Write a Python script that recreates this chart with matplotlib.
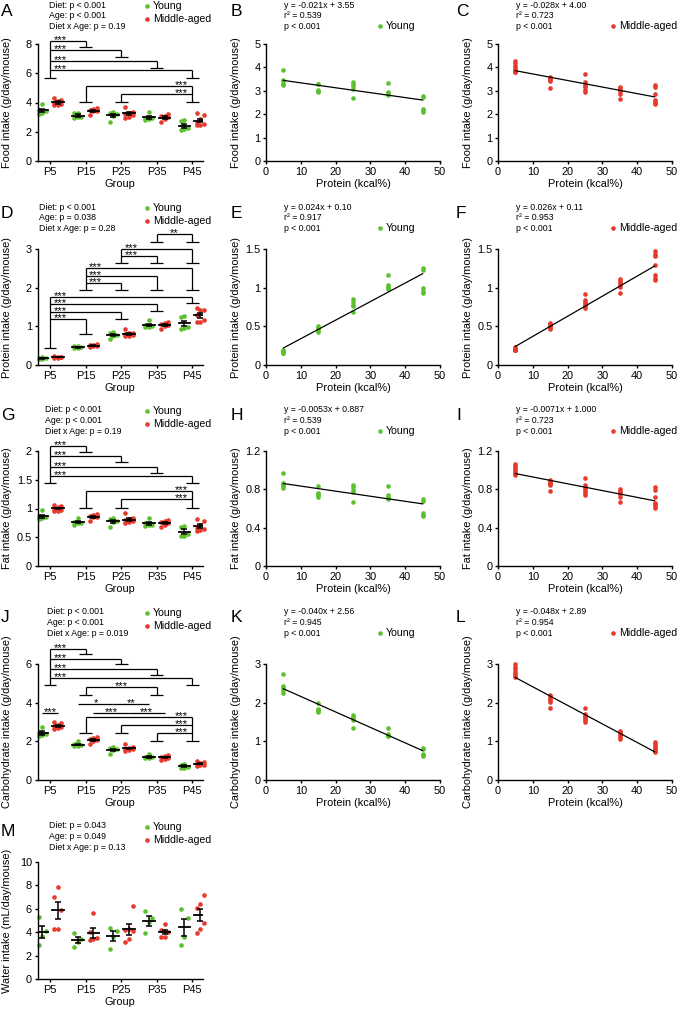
import numpy as np
import matplotlib
matplotlib.use('Agg')
import matplotlib.pyplot as plt
from matplotlib.lines import Line2D

plt.rcParams['font.family'] = ['Liberation Sans', 'DejaVu Sans']

GREEN = '#5dc12f'
RED = '#e63a2c'

groups = ['P5', 'P15', 'P25', 'P35', 'P45']
protein_pct = [5, 15, 25, 35, 45]

# intakes, one list per diet group
food_young = [[3.89, 3.47, 3.40, 3.30, 3.23],
              [3.31, 3.27, 3.04, 2.98, 2.93],
              [3.37, 3.29, 3.19, 3.09, 2.70],
              [3.34, 2.97, 2.92, 2.87, 2.83],
              [2.79, 2.73, 2.23, 2.16, 2.09]]
food_mid = [[4.28, 4.18, 4.08, 3.98, 3.87, 3.82, 3.80],
            [3.61, 3.55, 3.50, 3.45, 3.40, 3.12],
            [3.70, 3.37, 3.30, 3.22, 3.15, 3.04, 2.97],
            [3.18, 3.10, 3.05, 2.98, 2.87, 2.65],
            [3.25, 3.16, 2.87, 2.61, 2.55, 2.48, 2.44]]
prot_young = [[0.20, 0.18, 0.17, 0.16, 0.15],
              [0.50, 0.48, 0.46, 0.45, 0.43],
              [0.85, 0.82, 0.78, 0.76, 0.68],
              [1.17, 1.03, 1.01, 0.99, 0.98],
              [1.26, 1.23, 0.99, 0.96, 0.93]]
prot_mid = [[0.23, 0.21, 0.21, 0.20, 0.20, 0.19, 0.19],
            [0.54, 0.53, 0.51, 0.50, 0.48, 0.46],
            [0.92, 0.84, 0.82, 0.80, 0.78, 0.76, 0.74],
            [1.11, 1.08, 1.06, 1.03, 1.01, 0.93],
            [1.47, 1.43, 1.41, 1.29, 1.16, 1.12, 1.10]]
fat_young = [[0.97, 0.87, 0.85, 0.83, 0.81],
             [0.83, 0.76, 0.75, 0.74, 0.72],
             [0.84, 0.82, 0.79, 0.77, 0.67],
             [0.83, 0.74, 0.72, 0.71, 0.70],
             [0.70, 0.68, 0.55, 0.53, 0.52]]
fat_mid = [[1.06, 1.04, 1.02, 1.00, 0.98, 0.96, 0.95],
           [0.90, 0.88, 0.87, 0.86, 0.85, 0.78],
           [0.92, 0.84, 0.82, 0.80, 0.78, 0.76, 0.74],
           [0.80, 0.78, 0.76, 0.75, 0.72, 0.67],
           [0.82, 0.79, 0.72, 0.66, 0.65, 0.63, 0.61]]
carb_young = [[2.74, 2.44, 2.38, 2.32, 2.26],
              [2.00, 1.84, 1.80, 1.78, 1.76],
              [1.69, 1.64, 1.60, 1.55, 1.35],
              [1.34, 1.19, 1.17, 1.15, 1.13],
              [0.84, 0.80, 0.67, 0.64, 0.62]]
carb_mid = [[2.99, 2.93, 2.86, 2.80, 2.73, 2.69, 2.66],
            [2.20, 2.15, 2.10, 2.06, 2.03, 1.87],
            [1.86, 1.70, 1.65, 1.62, 1.58, 1.54, 1.50],
            [1.28, 1.24, 1.20, 1.16, 1.11, 1.06],
            [0.99, 0.94, 0.88, 0.84, 0.80, 0.76, 0.73]]
water_young = [[5.3, 4.1, 3.7, 2.9],
               [3.9, 3.4, 3.2, 2.7],
               [4.4, 4.1, 3.6, 2.6],
               [5.8, 5.2, 4.9, 3.9],
               [6.0, 5.2, 3.6, 2.9]]
water_mid = [[7.9, 7.0, 5.9, 4.3, 4.3],
             [5.6, 4.0, 3.5, 3.4, 3.3],
             [6.2, 4.3, 4.2, 4.1, 3.4, 3.2],
             [4.7, 4.2, 4.0, 3.6, 3.6],
             [7.2, 6.4, 6.1, 4.8, 4.3, 3.9]]

anova_texts = [['Diet: p < 0.001', 'Age: p < 0.001', 'Diet x Age: p = 0.19'],
               ['Diet: p < 0.001', 'Age: p = 0.038', 'Diet x Age: p = 0.28'],
               ['Diet: p < 0.001', 'Age: p < 0.001', 'Diet x Age: p = 0.19'],
               ['Diet: p < 0.001', 'Age: p < 0.001', 'Diet x Age: p = 0.019'],
               ['Diet: p = 0.043', 'Age: p = 0.049', 'Diet x Age: p = 0.13']]

fit_young = [(-0.021, 3.55), (0.024, 0.10), (-0.0053, 0.887), (-0.040, 2.56)]
fit_mid = [(-0.028, 4.00), (0.026, 0.11), (-0.0071, 1.000), (-0.048, 2.89)]
fit_young_text = [['y = -0.021x + 3.55', 'r\u00b2 = 0.539', 'p < 0.001'],
                  ['y = 0.024x + 0.10', 'r\u00b2 = 0.917', 'p < 0.001'],
                  ['y = -0.0053x + 0.887', 'r\u00b2 = 0.539', 'p < 0.001'],
                  ['y = -0.040x + 2.56', 'r\u00b2 = 0.945', 'p < 0.001']]
fit_mid_text = [['y = -0.028x + 4.00', 'r\u00b2 = 0.723', 'p < 0.001'],
                ['y = 0.026x + 0.11', 'r\u00b2 = 0.953', 'p < 0.001'],
                ['y = -0.0071x + 1.000', 'r\u00b2 = 0.723', 'p < 0.001'],
                ['y = -0.048x + 2.89', 'r\u00b2 = 0.954', 'p < 0.001']]

ylabels = ['Food intake (g/day/mouse)', 'Protein intake (g/day/mouse)',
           'Fat intake (g/day/mouse)', 'Carbohydrate intake (g/day/mouse)',
           'Water intake (mL/day/mouse)']
strip_ylim = [8, 3, 2, 6, 10]
strip_yticks = [[0, 2, 4, 6, 8], [0, 1, 2, 3], [0, 0.5, 1, 1.5, 2],
                [0, 2, 4, 6], [0, 2, 4, 6, 8, 10]]
scat_ylim = [5, 1.5, 1.2, 3]
scat_yticks = [[0, 1, 2, 3, 4, 5], [0, 0.5, 1, 1.5], [0, 0.4, 0.8, 1.2], [0, 1, 2, 3]]

# significance brackets: ('comb', common group, base, star side, arms) / ('line', x1, x2, y, label)
brackets = [
    [('comb', 0, 5.69, 'right', [(1, 8.22, 7.79, '***'), (2, 7.56, 7.11, '***'),
                                 (3, 6.83, 6.36, '***'), (4, 6.20, 5.69, '***')]),
     ('comb', 4, 4.03, 'left', [(1, 5.13, 4.03, '***'), (2, 4.60, 4.03, '***')])],
    [('comb', 0, 0.45, 'right', [(4, 1.77, 1.60, '***'), (3, 1.58, 1.40, '***'),
                                 (2, 1.38, 1.20, '***'), (1, 1.20, 0.79, '***')]),
     ('comb', 1, 1.94, 'right', [(4, 2.50, 1.94, '***'), (3, 2.31, 1.94, '***'),
                                 (2, 2.13, 1.94, '***')]),
     ('comb', 2, 2.65, 'right', [(4, 3.01, 2.65, '***'), (3, 2.83, 2.65, '***')]),
     ('comb', 3, 3.18, 'mid', [(4, 3.39, 3.18, '**')])],
    [('comb', 0, 1.45, 'right', [(1, 2.09, 1.98, '***'), (2, 1.91, 1.80, '***'),
                                 (3, 1.73, 1.62, '***'), (4, 1.57, 1.45, '***')]),
     ('comb', 4, 1.01, 'left', [(1, 1.30, 1.01, '***'), (2, 1.16, 1.01, '***')])],
    [('comb', 0, 4.91, 'right', [(1, 6.80, 6.54, '***'), (2, 6.28, 6.00, '***'),
                                 (3, 5.76, 5.43, '***'), (4, 5.28, 4.91, '***')]),
     ('comb', 1, 4.38, 'mid', [(3, 4.79, 4.38, '***')]),
     ('line', -0.22, 0.22, 3.49, '***'),
     ('line', 0.78, 1.78, 3.94, '*'),
     ('line', 1.78, 2.78, 3.94, '**'),
     ('line', 1.22, 2.22, 3.49, '***'),
     ('line', 2.22, 3.22, 3.49, '***'),
     ('comb', 4, 2.04, 'left', [(1, 3.25, 2.42, '***'), (2, 2.84, 2.42, '***'),
                                (3, 2.42, 2.04, '***')])],
    [],
]

W, H = 679, 1011
fig = plt.figure(figsize=(W / 100, H / 100), dpi=100)

rows = [(44, 161), (249, 365), (451, 566), (664, 780), (862, 979)]
cols = [(37.5, 203), (266, 440), (498, 672)]
row_y0 = [5, 207, 410, 612, 826]
left_stats_x = [49, 39, 45, 47, 49]
letters = [['A', 'B', 'C'], ['D', 'E', 'F'], ['G', 'H', 'I'], ['J', 'K', 'L'], ['M']]

FS = 7.9
SFS = 6.3
LINE = dict(color='k', lw=0.9, clip_on=False, solid_capstyle='butt')


def add_ax(c, r):
    l, rr = cols[c]
    t, b = rows[r]
    ax = fig.add_axes([l / W, 1 - b / H, (rr - l) / W, (b - t) / H])
    ax.px_w = rr - l
    for s in ('top', 'right'):
        ax.spines[s].set_visible(False)
    for s in ('left', 'bottom'):
        ax.spines[s].set_linewidth(1.0)
    ax.tick_params(direction='out', length=2.5, width=1.0, labelsize=FS, pad=1.5)
    return ax


def ftext(x, y, s, **kw):
    fig.text(x / W, 1 - y / H, s, **kw)


def fdot(x, y, c):
    fig.add_artist(Line2D([x / W], [1 - y / H], marker='o', ms=3.3, color=c,
                          mec='none', ls='none', transform=fig.transFigure))


def star(ax, x, y, s, side):
    dx, ha = {'right': (2.5, 'left'), 'left': (-3, 'right'), 'mid': (0, 'center')}[side]
    ax.annotate(s, (x, y), xytext=(dx, -1.5), textcoords='offset points',
                ha=ha, va='baseline', fontsize=8, annotation_clip=False)


def draw_brackets(ax, specs):
    for sp in specs:
        if sp[0] == 'line':
            _, x1, x2, y, lab = sp
            ax.plot([x1, x2], [y, y], **LINE)
            star(ax, (x1 + x2) / 2, y, lab, 'mid')
            continue
        _, c, base, side, arms = sp
        top = max(a[1] for a in arms)
        ax.plot([c, c], [base, top], **LINE)
        ax.plot([c - 0.18, c + 0.18], [base, base], **LINE)
        for j, lev, cap, lab in arms:
            ax.plot([c, j], [lev, lev], **LINE)
            ax.plot([j, j], [cap, lev], **LINE)
            ax.plot([j - 0.18, j + 0.18], [cap, cap], **LINE)
            if side == 'mid':
                star(ax, (c + j) / 2, lev, lab, 'mid')
            else:
                star(ax, c, lev, lab, side)


def strip(ax, young, mid, i):
    for g in range(5):
        for vals, off, col in ((young[g], -0.22, GREEN), (mid[g], 0.22, RED)):
            v = np.asarray(vals)
            rank = np.argsort(np.argsort(v))
            xs = g + off + np.array([-0.1, 0.0, 0.1])[rank % 3]
            ax.scatter(xs, v, s=11, color=col, lw=0, zorder=2, clip_on=False)
            m = v.mean()
            se = v.std(ddof=1) / np.sqrt(len(v))
            ax.plot([g + off - 0.165, g + off + 0.165], [m, m], color='k', lw=1.3, zorder=3)
            ax.errorbar(g + off, m, yerr=se, fmt='none', ecolor='k', elinewidth=1.1,
                        capsize=2.2, capthick=1.1, zorder=3)
    ax.set_xlim(-0.35, 4.3)
    ax.set_xticks(range(5))
    ax.set_xticklabels(groups)
    ax.set_ylim(0, strip_ylim[i])
    ax.set_yticks(strip_yticks[i])
    ax.set_yticklabels(['%g' % t for t in strip_yticks[i]])
    ax.set_xlabel('Group', fontsize=FS, labelpad=2)
    ax.set_ylabel(ylabels[i], fontsize=FS)
    ax.yaxis.set_label_coords(-25 / ax.px_w, 0.5)
    draw_brackets(ax, brackets[i])


def scat(ax, data, col, coef, i):
    for xv, vals in zip(protein_pct, data):
        ax.scatter([xv] * len(vals), vals, s=11, color=col, lw=0, zorder=2, clip_on=False)
    xx = np.array([5, 45])
    ax.plot(xx, coef[0] * xx + coef[1], color='k', lw=0.9, zorder=3)
    ax.set_xlim(0, 50)
    ax.set_xticks([0, 10, 20, 30, 40, 50])
    ax.set_ylim(0, scat_ylim[i])
    ax.set_yticks(scat_yticks[i])
    ax.set_yticklabels(['%g' % t for t in scat_yticks[i]])
    ax.set_xlabel('Protein (kcal%)', fontsize=FS, labelpad=2)
    ax.set_ylabel(ylabels[i], fontsize=FS)
    ax.yaxis.set_label_coords(-25 / ax.px_w, 0.5)


def stats_block(x, y0, lines):
    for k, s in enumerate(lines):
        ftext(x, y0 + k * 10.8, s, fontsize=SFS, va='center', ha='left')


young_sets = [food_young, prot_young, fat_young, carb_young, water_young]
mid_sets = [food_mid, prot_mid, fat_mid, carb_mid, water_mid]

for i in range(5):
    y0 = row_y0[i]
    ax = add_ax(0, i)
    strip(ax, young_sets[i], mid_sets[i], i)
    stats_block(left_stats_x[i], y0, anova_texts[i])
    fdot(147, y0 + 1, GREEN)
    ftext(153, y0 + 1, 'Young', fontsize=7.6, va='center')
    fdot(147, y0 + 14, RED)
    ftext(153, y0 + 14, 'Middle-aged', fontsize=7.6, va='center')
    ftext(1, y0 + 6, letters[i][0], fontsize=12.5, va='center')
    if i == 4:
        continue
    axb = add_ax(1, i)
    scat(axb, young_sets[i], GREEN, fit_young[i], i)
    stats_block(284, y0, fit_young_text[i])
    fdot(380, y0 + 21, GREEN)
    ftext(386, y0 + 21, 'Young', fontsize=7.6, va='center')
    ftext(231, y0 + 6, letters[i][1], fontsize=12.5, va='center')

    axc = add_ax(2, i)
    scat(axc, mid_sets[i], RED, fit_mid[i], i)
    stats_block(516, y0, fit_mid_text[i])
    fdot(613, y0 + 21, RED)
    ftext(619, y0 + 21, 'Middle-aged', fontsize=7.6, va='center')
    ftext(456, y0 + 6, letters[i][2], fontsize=12.5, va='center')

fig.savefig('out.png', dpi=100)
